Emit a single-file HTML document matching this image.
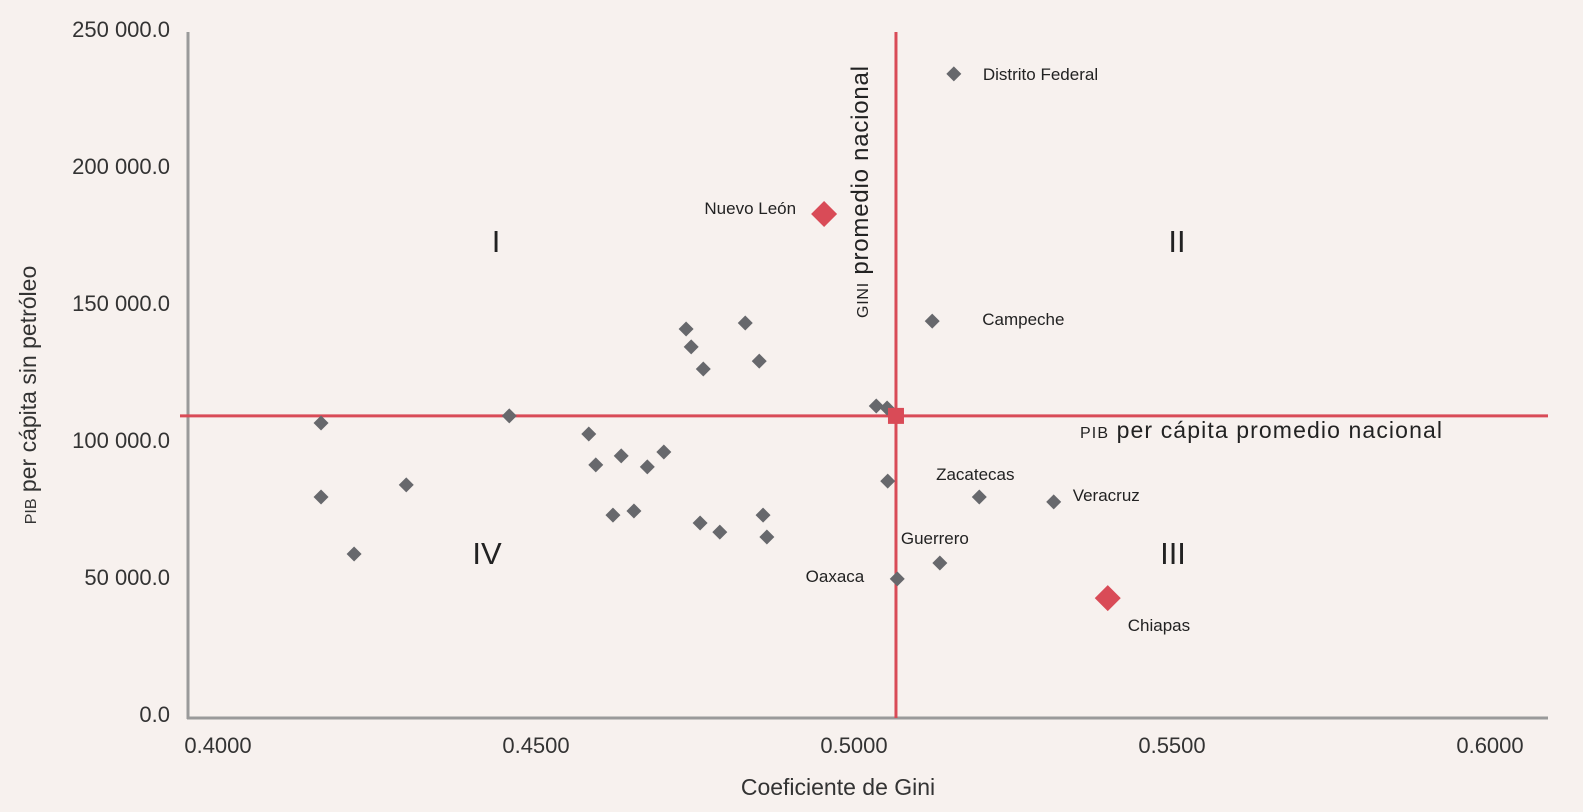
<!DOCTYPE html>
<html><head><meta charset="utf-8"><style>
html,body{margin:0;padding:0;background:#f7f1ee;}
svg{display:block;font-family:"Liberation Sans",sans-serif;}
</style></head><body>
<svg id="c" width="1583" height="812"></svg>
<script>
const names=["Distrito Federal","Nuevo León","Campeche","","","","","","","","","","","","","","","","","","","","","","","","","Zacatecas","Veracruz","Guerrero","Oaxaca","Chiapas"];
const gini=[0.5157,0.4953,0.5123,0.4736,0.4744,0.4763,0.4829,0.4851,0.5035,0.5052,0.4162,0.4458,0.4583,0.4594,0.4634,0.4675,0.4701,0.4162,0.4296,0.4214,0.4621,0.4654,0.4758,0.4789,0.4857,0.4863,0.5053,0.5197,0.5314,0.5135,0.5068,0.5399];
const pib=[233600,182500,143400,140500,134000,125900,142700,128800,112400,111700,106200,108800,102200,90900,94200,90200,95600,79200,83600,58400,72600,74100,69700,66400,72600,64600,85000,79200,77400,55100,49300,42300];
const highlight=[false,true,false,false,false,false,false,false,false,false,false,false,false,false,false,false,false,false,false,false,false,false,false,false,false,false,false,false,false,false,false,true];
const labelDx=[29,-28,50,0,0,0,0,0,0,0,0,0,0,0,0,0,0,0,0,0,0,0,0,0,0,0,0,-4,19,-5,-33,20];
const labelDy=[6,0,4,0,0,0,0,0,0,0,0,0,0,0,0,0,0,0,0,0,0,0,0,0,0,0,0,-17,-1,-19,3,33];
const labelAnchor=["start","end","start","","","","","","","","","","","","","","","","","","","","","","","","","middle","start","middle","end","start"];
const xTicks=[0.40,0.45,0.50,0.55,0.60];
const xTickLabels=["0.4000","0.4500","0.5000","0.5500","0.6000"];
const yTicks=[0,50000,100000,150000,200000,250000];
const yTickLabels=["0.0","50 000.0","100 000.0","150 000.0","200 000.0","250 000.0"];
const avgGini=0.5066, avgPib=108800;

const X=v=>218+(v-0.4)*6360;
const Y=v=>714-v*137/50000;
const svg=document.getElementById('c');
const NS="http://www.w3.org/2000/svg";
function mk(t,a,p){const e=document.createElementNS(NS,t);for(const k in a)e.setAttribute(k,a[k]);(p||svg).appendChild(e);return e;}

let e;
e=mk('line',{x1:188,y1:32,x2:188,y2:719,stroke:'#9a9a9a','stroke-width':3});


e=mk('line',{x1:187,y1:718,x2:1548,y2:718,stroke:'#9a9a9a','stroke-width':3});



xTicks.forEach((t,i)=>{
  const tx=mk('text',{x:X(t),y:753,'text-anchor':'middle','font-size':22,fill:'#333'});
  tx.textContent=xTickLabels[i];
  
  
});
yTicks.forEach((t,i)=>{
  const tx=mk('text',{x:170,y:Y(t)+8,'text-anchor':'end','font-size':22,fill:'#333'});
  tx.textContent=yTickLabels[i];
  
  
});

e=mk('line',{x1:X(avgGini),y1:32,x2:X(avgGini),y2:718,stroke:'#d94b57','stroke-width':3});


e=mk('line',{x1:180,y1:Y(avgPib),x2:1548,y2:Y(avgPib),stroke:'#d94b57','stroke-width':3});



gini.forEach((g,i)=>{
  const cx=X(g),cy=Y(pib[i]);const s=highlight[i]?13:7.5;
  const p=mk('polygon',{points:`${cx},${cy-s} ${cx+s},${cy} ${cx},${cy+s} ${cx-s},${cy}`,fill:highlight[i]?'#d94b57':'#67686c'});
  
  
  if(names[i]){
    const t=mk('text',{x:cx+labelDx[i],y:cy+labelDy[i],'text-anchor':labelAnchor[i],'font-size':17,fill:'#222'});
    t.textContent=names[i];
    
    
  }
});
e=mk('rect',{x:X(avgGini)-8,y:Y(avgPib)-8,width:16,height:16,fill:'#d94b57'});



[["I",496,252],["II",1177,252],["III",1173,564],["IV",487,564]].forEach(q=>{
  const t=mk('text',{x:q[1],y:q[2],'text-anchor':'middle','font-size':31,fill:'#222'});
  t.textContent=q[0];
  
  
});
</script>
<svg style="position:absolute;left:0;top:0" width="1583" height="812">
<text transform="translate(868,318) rotate(-90)" font-family="Liberation Sans,sans-serif" font-size="24" textLength="252" fill="#222"><tspan font-size="16">GINI</tspan> promedio nacional</text>
<text x="1080" y="438" font-family="Liberation Sans,sans-serif" font-size="23" textLength="362" fill="#222"><tspan font-size="16">PIB</tspan> per cápita promedio nacional</text>
<text x="838" y="795" text-anchor="middle" font-family="Liberation Sans,sans-serif" font-size="23" fill="#333">Coeficiente de Gini</text>
<text transform="translate(36,395) rotate(-90)" text-anchor="middle" font-family="Liberation Sans,sans-serif" font-size="23" fill="#333"><tspan font-size="16">PIB</tspan> per cápita sin petróleo</text>
</svg>
</body></html>
